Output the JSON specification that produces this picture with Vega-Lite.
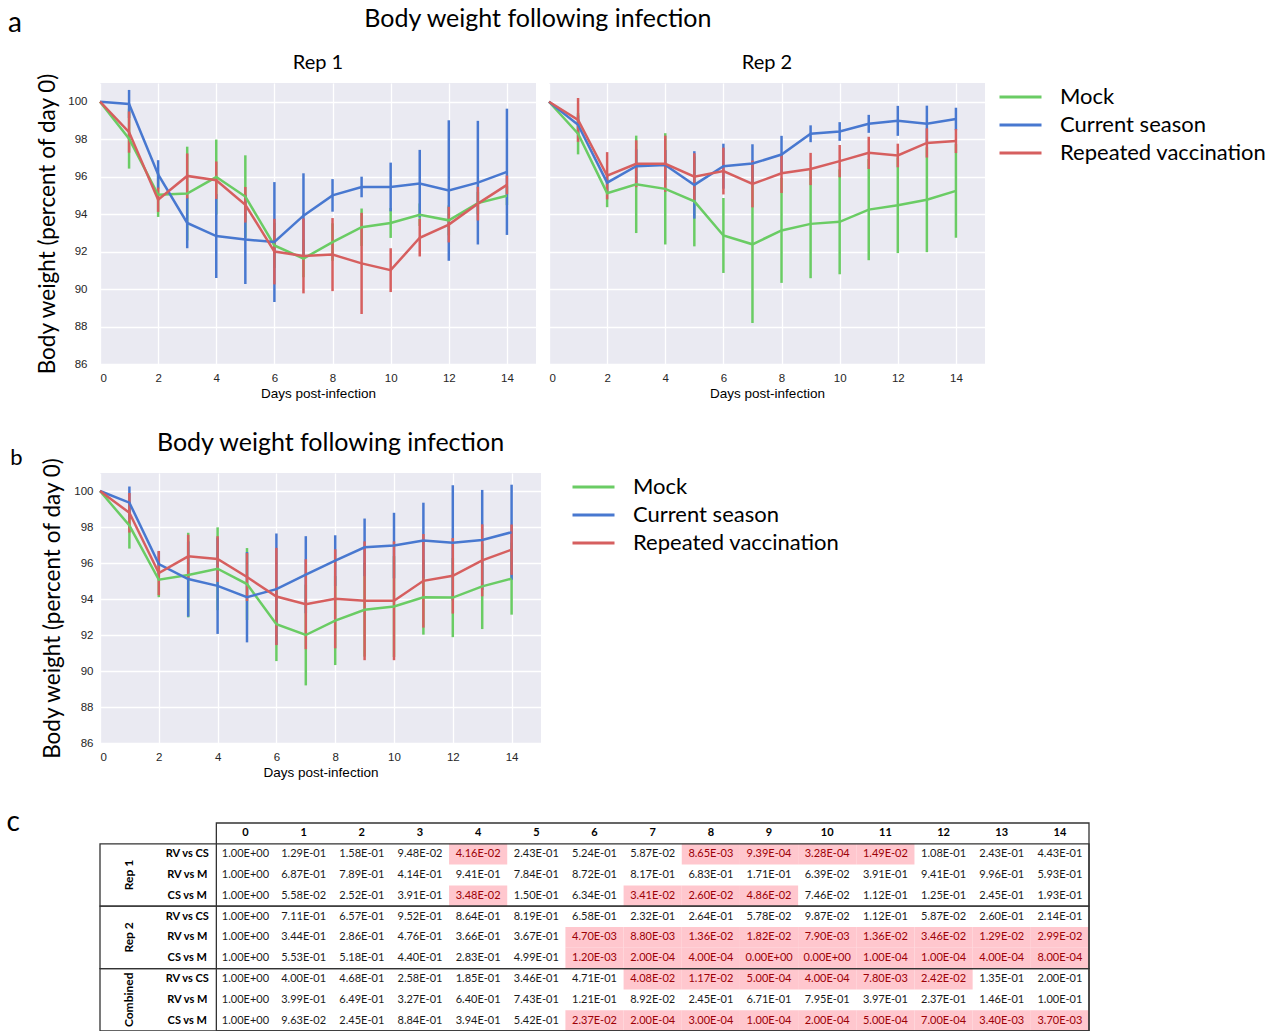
{
  "$schema": "https://vega.github.io/schema/vega-lite/v6.json",
  "background": "white",
  "padding": {"left": 6, "top": 7, "right": 5, "bottom": 2},
  "columns": 1,
  "align": "none",
  "spacing": 30,
  "resolve": {"legend": {"color": "independent"}},
  "config": {
    "view": {"fill": "#EAEAF2", "stroke": null},
    "axis": {"domain": false, "ticks": false, "gridColor": "white", "gridWidth": 1.3, "labelFont": "Liberation Sans", "labelFontSize": 11.5, "labelColor": "#262626", "labelOverlap": false, "titleFont": "Lato", "titleFontWeight": "normal", "titleColor": "black"},
    "axisY": {"tickSize": 0},
    "legend": {"title": null, "labelFont": "Lato", "labelFontSize": 22, "labelColor": "black", "labelLimit": 400, "symbolType": "stroke", "symbolSize": 1764, "symbolStrokeWidth": 3, "clipHeight": 28, "rowPadding": 0, "labelOffset": 17, "padding": 0},
    "title": {"font": "Lato", "fontWeight": "normal", "color": "black"},
    "header": {"labelFont": "Lato", "labelFontSize": 20, "labelColor": "black"}
  },
  "datasets": {
    "bw": [
      {"p": "Rep 1", "g": "Mock", "d": [0,1,2,3,4,5,6,7,8,9,10,11,12,13,14], "m": [100, 98.03, 95.03, 95.10, 95.98, 94.94, 92.33, 91.63, 92.51, 93.30, 93.53, 93.97, 93.67, 94.59, 94.98], "e": [0, 1.6, 1.18, 2.5, 2.0, 2.2, 1.2, 1.0, 1.0, 1.0, 0.8, 0.6, 0.8, 0.6, 0.5]},
      {"p": "Rep 1", "g": "Current season", "d": [0,1,2,3,4,5,6,7,8,9,10,11,12,13,14], "m": [100, 99.88, 96.12, 93.53, 92.83, 92.65, 92.51, 93.92, 95.00, 95.45, 95.45, 95.63, 95.26, 95.68, 96.26], "e": [0, 0.75, 0.76, 1.35, 2.24, 2.38, 3.2, 2.26, 0.87, 0.55, 1.3, 1.8, 3.75, 3.3, 3.37]},
      {"p": "Rep 1", "g": "Repeated vaccination", "d": [0,1,2,3,4,5,6,7,8,9,10,11,12,13,14], "m": [100, 98.38, 94.77, 96.04, 95.81, 94.50, 92.00, 91.77, 91.84, 91.37, 91.01, 92.74, 93.44, 94.56, 95.56], "e": [0, 1.1, 0.65, 1.2, 1.0, 0.95, 1.75, 2.0, 1.95, 2.7, 1.17, 1.0, 0.95, 0.9, 0.5]},
      {"p": "Rep 2", "g": "Mock", "d": [0,1,2,3,4,5,6,7,8,9,10,11,12,13,14], "m": [100, 98.29, 95.12, 95.59, 95.35, 94.68, 92.86, 92.39, 93.13, 93.48, 93.59, 94.24, 94.47, 94.77, 95.24], "e": [0, 1.1, 0.75, 2.6, 2.97, 2.4, 2.0, 4.2, 2.8, 2.9, 2.8, 2.7, 2.55, 2.8, 2.5]},
      {"p": "Rep 2", "g": "Current season", "d": [0,1,2,3,4,5,6,7,8,9,10,11,12,13,14], "m": [100, 98.77, 95.68, 96.56, 96.62, 95.56, 96.56, 96.70, 97.18, 98.29, 98.41, 98.82, 98.98, 98.82, 99.08], "e": [0, 0.5, 0.5, 0.9, 0.8, 1.8, 1.2, 1.03, 1.0, 0.45, 0.5, 0.48, 0.8, 0.97, 0.6]},
      {"p": "Rep 2", "g": "Repeated vaccination", "d": [0,1,2,3,4,5,6,7,8,9,10,11,12,13,14], "m": [100, 99.03, 96.05, 96.69, 96.69, 96.00, 96.30, 95.61, 96.18, 96.41, 96.83, 97.27, 97.13, 97.80, 97.90], "e": [0, 1.17, 1.26, 1.25, 1.5, 1.25, 1.25, 1.25, 1.05, 0.86, 0.86, 0.86, 0.63, 0.78, 0.64]},
      {"p": "Combined", "g": "Mock", "d": [0,1,2,3,4,5,6,7,8,9,10,11,12,13,14], "m": [100, 98.08, 95.07, 95.33, 95.68, 94.83, 92.60, 92.00, 92.80, 93.40, 93.58, 94.10, 94.08, 94.70, 95.13], "e": [0, 1.28, 0.97, 2.35, 2.3, 2.0, 2.05, 2.8, 2.47, 2.6, 2.8, 2.08, 2.2, 2.37, 2.0]},
      {"p": "Combined", "g": "Current season", "d": [0,1,2,3,4,5,6,7,8,9,10,11,12,13,14], "m": [100, 99.35, 95.94, 95.11, 94.73, 94.10, 94.55, 95.35, 96.13, 96.87, 96.97, 97.25, 97.12, 97.28, 97.71], "e": [0, 0.9, 0.71, 2.09, 2.67, 2.51, 3.09, 2.14, 1.41, 1.6, 1.82, 2.1, 3.2, 2.78, 2.64]},
      {"p": "Combined", "g": "Repeated vaccination", "d": [0,1,2,3,4,5,6,7,8,9,10,11,12,13,14], "m": [100, 98.79, 95.44, 96.37, 96.22, 95.22, 94.14, 93.71, 94.01, 93.90, 93.90, 95.01, 95.29, 96.15, 96.74], "e": [0, 1.1, 1.23, 1.2, 1.27, 1.33, 2.7, 2.5, 2.75, 3.3, 3.3, 2.6, 2.1, 2.0, 1.4]}
    ],
    "pv": [
      {"g": "Rep 1", "c": "RV vs CS", "r": "Rep 1 RV vs CS", "0": "1.00E+00", "1": "1.29E-01", "2": "1.58E-01", "3": "9.48E-02", "4": "4.16E-02", "5": "2.43E-01", "6": "5.24E-01", "7": "5.87E-02", "8": "8.65E-03", "9": "9.39E-04", "10": "3.28E-04", "11": "1.49E-02", "12": "1.08E-01", "13": "2.43E-01", "14": "4.43E-01"},
      {"g": "Rep 1", "c": "RV vs M", "r": "Rep 1 RV vs M", "0": "1.00E+00", "1": "6.87E-01", "2": "7.89E-01", "3": "4.14E-01", "4": "9.41E-01", "5": "7.84E-01", "6": "8.72E-01", "7": "8.17E-01", "8": "6.83E-01", "9": "1.71E-01", "10": "6.39E-02", "11": "3.91E-01", "12": "9.41E-01", "13": "9.96E-01", "14": "5.93E-01"},
      {"g": "Rep 1", "c": "CS vs M", "r": "Rep 1 CS vs M", "0": "1.00E+00", "1": "5.58E-02", "2": "2.52E-01", "3": "3.91E-01", "4": "3.48E-02", "5": "1.50E-01", "6": "6.34E-01", "7": "3.41E-02", "8": "2.60E-02", "9": "4.86E-02", "10": "7.46E-02", "11": "1.12E-01", "12": "1.25E-01", "13": "2.45E-01", "14": "1.93E-01"},
      {"g": "Rep 2", "c": "RV vs CS", "r": "Rep 2 RV vs CS", "0": "1.00E+00", "1": "7.11E-01", "2": "6.57E-01", "3": "9.52E-01", "4": "8.64E-01", "5": "8.19E-01", "6": "6.58E-01", "7": "2.32E-01", "8": "2.64E-01", "9": "5.78E-02", "10": "9.87E-02", "11": "1.12E-01", "12": "5.87E-02", "13": "2.60E-01", "14": "2.14E-01"},
      {"g": "Rep 2", "c": "RV vs M", "r": "Rep 2 RV vs M", "0": "1.00E+00", "1": "3.44E-01", "2": "2.86E-01", "3": "4.76E-01", "4": "3.66E-01", "5": "3.67E-01", "6": "4.70E-03", "7": "8.80E-03", "8": "1.36E-02", "9": "1.82E-02", "10": "7.90E-03", "11": "1.36E-02", "12": "3.46E-02", "13": "1.29E-02", "14": "2.99E-02"},
      {"g": "Rep 2", "c": "CS vs M", "r": "Rep 2 CS vs M", "0": "1.00E+00", "1": "5.53E-01", "2": "5.18E-01", "3": "4.40E-01", "4": "2.83E-01", "5": "4.99E-01", "6": "1.20E-03", "7": "2.00E-04", "8": "4.00E-04", "9": "0.00E+00", "10": "0.00E+00", "11": "1.00E-04", "12": "1.00E-04", "13": "4.00E-04", "14": "8.00E-04"},
      {"g": "Combined", "c": "RV vs CS", "r": "Combined RV vs CS", "0": "1.00E+00", "1": "4.00E-01", "2": "4.68E-01", "3": "2.58E-01", "4": "1.85E-01", "5": "3.46E-01", "6": "4.71E-01", "7": "4.08E-02", "8": "1.17E-02", "9": "5.00E-04", "10": "4.00E-04", "11": "7.80E-03", "12": "2.42E-02", "13": "1.35E-01", "14": "2.00E-01"},
      {"g": "Combined", "c": "RV vs M", "r": "Combined RV vs M", "0": "1.00E+00", "1": "3.99E-01", "2": "6.49E-01", "3": "3.27E-01", "4": "6.40E-01", "5": "7.43E-01", "6": "1.21E-01", "7": "8.92E-02", "8": "2.45E-01", "9": "6.71E-01", "10": "7.95E-01", "11": "3.97E-01", "12": "2.37E-01", "13": "1.46E-01", "14": "1.00E-01"},
      {"g": "Combined", "c": "CS vs M", "r": "Combined CS vs M", "0": "1.00E+00", "1": "9.63E-02", "2": "2.45E-01", "3": "8.84E-01", "4": "3.94E-01", "5": "5.42E-01", "6": "2.37E-02", "7": "2.00E-04", "8": "3.00E-04", "9": "1.00E-04", "10": "2.00E-04", "11": "5.00E-04", "12": "7.00E-04", "13": "3.40E-03", "14": "3.70E-03"}
    ],
    "grp": [
      {"g": "Rep 1", "first": "Rep 1 RV vs CS", "mid": "Rep 1 RV vs M", "last": "Rep 1 CS vs M"},
      {"g": "Rep 2", "first": "Rep 2 RV vs CS", "mid": "Rep 2 RV vs M", "last": "Rep 2 CS vs M"},
      {"g": "Combined", "first": "Combined RV vs CS", "mid": "Combined RV vs M", "last": "Combined CS vs M"}
    ]
  },
  "concat": [
    {
      "title": {"text": "a", "orient": "left", "anchor": "end", "frame": "bounds", "angle": 0, "align": "right", "baseline": "middle", "fontSize": 28, "offset": 1, "dy": 17},
      "vconcat": [
        {
          "title": {"text": "Body weight following infection", "fontSize": 25, "anchor": "middle", "frame": "bounds", "offset": 21, "dx": 27},
          "data": {"name": "bw"},
          "transform": [{"flatten": ["d", "m", "e"]}, {"filter": "datum.p !== 'Combined'"}],
          "facet": {"column": {"field": "p", "type": "nominal", "title": null, "header": {"labelPadding": 10}}},
          "spacing": {"column": 8},
          "spec": {
            "width": 436,
            "height": 281,
            "layer": [
              {
                "mark": {"type": "errorbar", "thickness": 2.5},
                "encoding": {
                  "x": {"field": "d", "type": "quantitative", "title": "Days post-infection", "scale": {"domain": [0, 15], "nice": false}, "axis": {"values": [0, 2, 4, 6, 8, 10, 12, 14], "titleFont": "Liberation Sans", "titleFontSize": 13.5, "labelPadding": 8, "titlePadding": 3}},
                  "y": {"field": "m", "type": "quantitative", "title": "Body weight (percent of day 0)", "scale": {"domain": [86, 101], "nice": false, "zero": false}, "axis": {"values": [86, 88, 90, 92, 94, 96, 98, 100], "titleFontSize": 22.5, "labelPadding": 8, "titlePadding": 8}},
                  "yError": {"field": "e"},
                  "color": {"field": "g", "type": "nominal", "scale": {"domain": ["Mock", "Current season", "Repeated vaccination"], "range": ["#6ACC64", "#4878D0", "#D65F5F"]}, "legend": {"offset": 13}}
                }
              },
              {
                "mark": {"type": "line", "strokeWidth": 2.5},
                "encoding": {
                  "x": {"field": "d", "type": "quantitative", "title": "Days post-infection", "axis": {"values": [0, 2, 4, 6, 8, 10, 12, 14], "titleFont": "Liberation Sans", "titleFontSize": 13.5, "labelPadding": 8, "titlePadding": 3}},
                  "y": {"field": "m", "type": "quantitative", "title": "Body weight (percent of day 0)", "axis": {"values": [86, 88, 90, 92, 94, 96, 98, 100], "titleFontSize": 22.5, "labelPadding": 8, "titlePadding": 8}},
                  "color": {"field": "g", "type": "nominal"}
                }
              }
            ]
          }
        }
      ]
    },
    {
      "title": {"text": "b", "orient": "left", "anchor": "end", "frame": "bounds", "angle": 0, "align": "right", "baseline": "middle", "fontSize": 22, "offset": 7, "dy": 27},
      "vconcat": [
        {
          "title": {"text": "Body weight following infection", "fontSize": 25, "anchor": "middle", "frame": "group", "offset": 1, "dx": 10},
          "data": {"name": "bw"},
          "transform": [{"flatten": ["d", "m", "e"]}, {"filter": "datum.p === 'Combined'"}],
          "width": 441,
          "height": 270,
          "layer": [
            {
              "mark": {"type": "errorbar", "thickness": 2.5},
              "encoding": {
                "x": {"field": "d", "type": "quantitative", "title": "Days post-infection", "scale": {"domain": [0, 15], "nice": false}, "axis": {"values": [0, 2, 4, 6, 8, 10, 12, 14], "titleFont": "Liberation Sans", "titleFontSize": 13.5, "labelPadding": 8, "titlePadding": 3}},
                "y": {"field": "m", "type": "quantitative", "title": "Body weight (percent of day 0)", "scale": {"domain": [86, 101], "nice": false, "zero": false}, "axis": {"values": [86, 88, 90, 92, 94, 96, 98, 100], "titleFontSize": 22.5, "labelPadding": 7, "titlePadding": 9}},
                "yError": {"field": "e"},
                "color": {"field": "g", "type": "nominal", "scale": {"domain": ["Mock", "Current season", "Repeated vaccination"], "range": ["#6ACC64", "#4878D0", "#D65F5F"]}, "legend": {"offset": 30}}
              }
            },
            {
              "mark": {"type": "line", "strokeWidth": 2.5},
              "encoding": {
                "x": {"field": "d", "type": "quantitative", "title": "Days post-infection", "axis": {"values": [0, 2, 4, 6, 8, 10, 12, 14], "titleFont": "Liberation Sans", "titleFontSize": 13.5, "labelPadding": 8, "titlePadding": 3}},
                "y": {"field": "m", "type": "quantitative", "title": "Body weight (percent of day 0)", "axis": {"values": [86, 88, 90, 92, 94, 96, 98, 100], "titleFontSize": 22.5, "labelPadding": 7, "titlePadding": 9}},
                "color": {"field": "g", "type": "nominal"}
              }
            }
          ]
        }
      ]
    },
    {
      "title": {"text": "c", "orient": "left", "anchor": "end", "frame": "group", "angle": 0, "align": "right", "baseline": "middle", "fontSize": 28, "offset": 66},
      "width": 989,
      "height": 208,
      "view": {"fill": null, "stroke": null},
      "layer": [
        {
          "data": {"name": "pv"},
          "transform": [{"fold": ["0","1","2","3","4","5","6","7","8","9","10","11","12","13","14"], "as": ["day", "p"]}, {"filter": "toNumber(datum.p) < 0.05"}],
          "mark": {"type": "rect", "fill": "#FFC7CE"},
          "encoding": {
            "x": {"field": "day", "type": "nominal", "axis": null, "scale": {"type": "band", "domain": ["grp","lbl","0","1","2","3","4","5","6","7","8","9","10","11","12","13","14"], "paddingInner": 0, "paddingOuter": 0}},
            "y": {"field": "r", "type": "nominal", "axis": null, "scale": {"type": "band", "domain": ["hdr","Rep 1 RV vs CS","Rep 1 RV vs M","Rep 1 CS vs M","Rep 2 RV vs CS","Rep 2 RV vs M","Rep 2 CS vs M","Combined RV vs CS","Combined RV vs M","Combined CS vs M"], "paddingInner": 0, "paddingOuter": 0}}
          }
        },
        {
          "data": {"name": "pv"},
          "transform": [{"fold": ["0","1","2","3","4","5","6","7","8","9","10","11","12","13","14"], "as": ["day", "p"]}],
          "mark": {"type": "text", "font": "Lato", "fontSize": 11},
          "encoding": {
            "x": {"field": "day", "type": "nominal"},
            "y": {"field": "r", "type": "nominal"},
            "text": {"field": "p"},
            "color": {"condition": {"test": "toNumber(datum.p) < 0.05", "value": "#9C0006"}, "value": "#1a1a1a"}
          }
        },
        {
          "data": {"name": "pv"},
          "transform": [{"filter": "datum.r === 'Rep 1 RV vs CS'"}, {"fold": ["0","1","2","3","4","5","6","7","8","9","10","11","12","13","14"], "as": ["day", "p"]}],
          "mark": {"type": "text", "font": "Lato", "fontSize": 11, "fontWeight": "bold", "color": "black"},
          "encoding": {
            "x": {"field": "day", "type": "nominal"},
            "y": {"datum": "hdr", "type": "nominal"},
            "text": {"field": "day"}
          }
        },
        {
          "data": {"name": "pv"},
          "mark": {"type": "text", "font": "Lato", "fontSize": 11, "fontWeight": "bold", "color": "black"},
          "encoding": {
            "x": {"datum": "lbl", "type": "nominal"},
            "y": {"field": "r", "type": "nominal"},
            "text": {"field": "c"}
          }
        },
        {
          "data": {"name": "grp"},
          "mark": {"type": "text", "font": "Lato", "fontSize": 12, "fontWeight": "bold", "color": "black", "angle": 270},
          "encoding": {
            "x": {"datum": "grp", "type": "nominal"},
            "y": {"field": "mid", "type": "nominal"},
            "text": {"field": "g"}
          }
        },
        {
          "data": {"name": "grp"},
          "mark": {"type": "rect", "filled": false, "stroke": "#333333", "strokeWidth": 1.3},
          "encoding": {
            "x": {"datum": "grp", "type": "nominal", "bandPosition": 0},
            "x2": {"datum": "14", "bandPosition": 1},
            "y": {"field": "first", "type": "nominal", "bandPosition": 0},
            "y2": {"field": "last", "bandPosition": 1}
          }
        },
        {
          "data": {"values": [{"box": "outer"}]},
          "mark": {"type": "rect", "filled": false, "stroke": "#333333", "strokeWidth": 1.3},
          "encoding": {
            "x": {"datum": "0", "type": "nominal", "bandPosition": 0},
            "x2": {"datum": "14", "bandPosition": 1},
            "y": {"datum": "hdr", "type": "nominal", "bandPosition": 0},
            "y2": {"datum": "Combined CS vs M", "bandPosition": 1}
          }
        }
      ]
    }
  ]
}
